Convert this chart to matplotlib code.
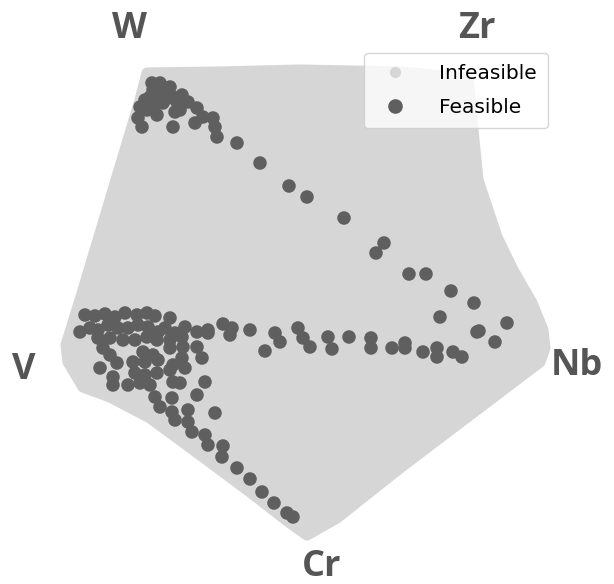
import numpy as np
from matplotlib import pyplot as plt
from matplotlib.lines import Line2D

# image-space coordinates (x right, y down)
region_x = [147, 220, 300, 400, 468, 472, 478, 497, 513, 532, 543, 545, 540, 470, 400, 337,
            307, 290, 250, 203, 150, 110, 83, 68, 66, 80, 95, 110, 128, 140]
region_y = [73, 72, 70, 72, 78, 120, 180, 237, 270, 303, 330, 348, 362, 415, 468, 518,
            535, 523, 492, 457, 418, 397, 387, 362, 345, 300, 250, 200, 140, 100]

# feasible compositions, top-left cluster and diagonal towards Nb
feas_top_x = [152, 160, 170, 153, 150, 160, 165, 145, 155, 163, 168, 173, 182, 140, 147, 157,
              138, 142, 175, 177, 188, 197, 180, 173, 195, 203, 213, 215, 217, 237, 260, 289,
              307, 344, 384, 376, 409, 426, 451, 474, 440, 507, 479, 495, 477]
feas_top_y = [83, 83, 87, 90, 97, 97, 92, 100, 105, 103, 98, 97, 95, 107, 110, 115,
              118, 127, 112, 102, 102, 108, 110, 127, 123, 117, 118, 127, 137, 143, 163, 186,
              197, 218, 243, 253, 274, 274, 291, 303, 317, 323, 331, 342, 332]

# horizontal band V -> Nb
feas_mid_x = [208, 223, 232, 230, 250, 265, 275, 280, 298, 303, 310, 328, 332, 349, 371, 371,
              392, 405, 405, 423, 437, 437, 453, 462]
feas_mid_y = [333, 324, 328, 335, 330, 351, 333, 342, 328, 338, 347, 337, 349, 337, 338, 348,
              348, 343, 348, 352, 348, 357, 352, 357]

# cluster near V and the edge towards Cr
feas_low_x = [85, 95, 105, 115, 125, 137, 147, 155, 170,
              80, 90, 98, 108, 118, 128, 138, 148, 158, 165, 175, 185, 197, 208,
              98, 110, 123, 135, 147, 157, 170, 182,
              103, 110, 143, 153, 170, 183, 197,
              100, 117, 133, 145, 158, 173, 182, 202,
              113, 135, 145, 157, 170, 185,
              113, 128, 140, 150, 173, 180, 205,
              155, 172, 197, 160, 172, 188, 215, 175, 188, 192, 205, 208, 223, 222,
              237, 250, 262, 274, 287, 293]
feas_low_y = [315, 316, 314, 317, 313, 315, 313, 316, 318,
              332, 328, 330, 325, 328, 328, 325, 327, 332, 328, 333, 327, 332, 330,
              338, 338, 340, 340, 337, 340, 340, 337,
              348, 355, 352, 355, 348, 347, 347,
              368, 363, 362, 362, 360, 365, 358, 358,
              377, 373, 375, 373, 370, 368,
              385, 385, 383, 385, 382, 383, 382,
              397, 398, 395, 407, 412, 410, 413, 420, 422, 432, 435, 445, 446, 457,
              468, 479, 492, 503, 513, 517]

labels = ['W', 'Zr', 'Nb', 'Cr', 'V']
label_x = [129, 477, 577, 322, 24]
label_y = [29, 29, 366, 567, 370]

light = '#d6d6d6'
dark = '#5f5f5f'

fig = plt.figure(figsize=(6.14, 5.84), dpi=100)
ax = fig.add_axes([0, 0, 1, 1])
ax.set_xlim(0, 614)
ax.set_ylim(584, 0)
ax.axis('off')

ax.fill(region_x, region_y, color=light, lw=8, joinstyle='round', zorder=1)

fx = feas_top_x + feas_mid_x + feas_low_x
fy = feas_top_y + feas_mid_y + feas_low_y
ax.scatter(fx, fy, s=95, color=dark, edgecolors='none', zorder=3)

for t, x, y in zip(labels, label_x, label_y):
    ax.text(x, y, t, fontsize=26, fontweight='bold', color='#555555',
            ha='center', va='center', family=['Open Sans', 'DejaVu Sans'])

h = [Line2D([], [], ls='none', marker='o', ms=7, color=light),
     Line2D([], [], ls='none', marker='o', ms=9.5, color=dark)]
ax.legend(h, ['Infeasible', 'Feasible'], loc='upper right', fontsize=14.5,
          bbox_to_anchor=(548 / 614, 1 - 53 / 584), borderaxespad=0,
          framealpha=0.8, handletextpad=1.2, borderpad=0.55, labelspacing=0.75)

fig.savefig('out.png', dpi=100)
